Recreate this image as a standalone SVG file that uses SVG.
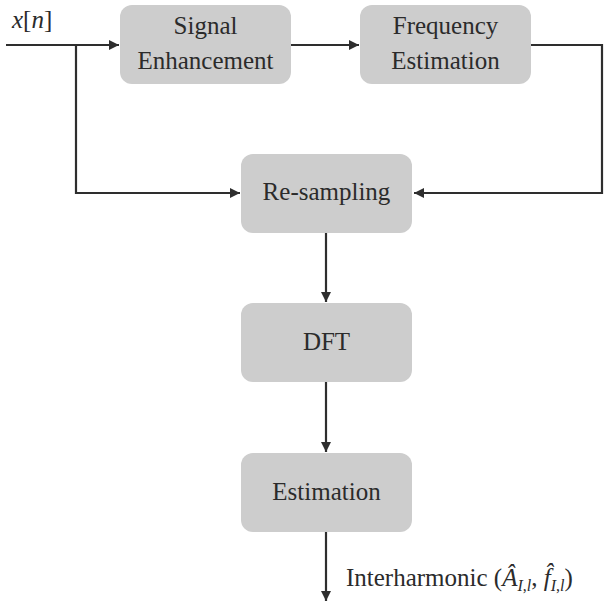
<svg xmlns="http://www.w3.org/2000/svg" width="613" height="604" viewBox="0 0 613 604">
<defs>
<marker id="ah" viewBox="0 0 10 10" refX="10" refY="5" markerWidth="10" markerHeight="10" markerUnits="userSpaceOnUse" orient="auto">
<path d="M0,0 L10,5 L0,10 z" fill="#2e2e2e"/>
</marker>
</defs>
<rect width="613" height="604" fill="#ffffff"/>
<g id="connectors" fill="none" stroke="#2e2e2e" stroke-width="2.2">
<path d="M6,45 H119" marker-end="url(#ah)"/>
<path d="M76,45 V193 H240" marker-end="url(#ah)"/>
<path d="M291,45 H359" marker-end="url(#ah)"/>
<path d="M531,45 H602 V193 H414" marker-end="url(#ah)"/>
<path d="M326,233 V302" marker-end="url(#ah)"/>
<path d="M326,382 V452" marker-end="url(#ah)"/>
<path d="M326,532 V601" marker-end="url(#ah)"/>
</g>
<text x="12" y="28" font-size="25" fill="#2b2b2b" font-family="Liberation Serif" font-style="italic">x<tspan font-style="normal">[</tspan>n<tspan font-style="normal">]</tspan></text>
<g id="signal-enhancement">
<rect fill="#cdcdcd" x="120" y="5" width="171" height="79" rx="12"/>
<text x="205.5" y="34" font-size="25" fill="#2b2b2b" text-anchor="middle" font-family="Liberation Serif">Signal</text>
<text x="205.5" y="69" font-size="25" fill="#2b2b2b" text-anchor="middle" font-family="Liberation Serif">Enhancement</text>
</g>
<g id="frequency-estimation">
<rect fill="#cdcdcd" x="360" y="5" width="171" height="79" rx="12"/>
<text x="445.5" y="34" font-size="25" fill="#2b2b2b" text-anchor="middle" font-family="Liberation Serif">Frequency</text>
<text x="445.5" y="69" font-size="25" fill="#2b2b2b" text-anchor="middle" font-family="Liberation Serif">Estimation</text>
</g>
<g id="re-sampling">
<rect fill="#cdcdcd" x="241" y="154" width="171" height="79" rx="12"/>
<text x="326.5" y="200" font-size="25" fill="#2b2b2b" text-anchor="middle" font-family="Liberation Serif">Re-sampling</text>
</g>
<g id="dft">
<rect fill="#cdcdcd" x="241" y="303" width="171" height="79" rx="12"/>
<text x="326.5" y="350" font-size="25" fill="#2b2b2b" text-anchor="middle" font-family="Liberation Serif">DFT</text>
</g>
<g id="estimation">
<rect fill="#cdcdcd" x="241" y="453" width="171" height="79" rx="12"/>
<text x="326.5" y="500" font-size="25" fill="#2b2b2b" text-anchor="middle" font-family="Liberation Serif">Estimation</text>
</g>
<text x="346" y="586" font-size="25" fill="#2b2b2b" font-family="Liberation Serif">Interharmonic (<tspan font-style="italic">Â</tspan><tspan font-style="italic" font-size="16" dy="5">I</tspan><tspan font-size="16">,</tspan><tspan font-style="italic" font-size="16">l</tspan><tspan dy="-5">, </tspan><tspan font-style="italic">f̂</tspan><tspan font-style="italic" font-size="16" dy="5">I</tspan><tspan font-size="16">,</tspan><tspan font-style="italic" font-size="16">l</tspan><tspan dy="-5">)</tspan></text>
</svg>
